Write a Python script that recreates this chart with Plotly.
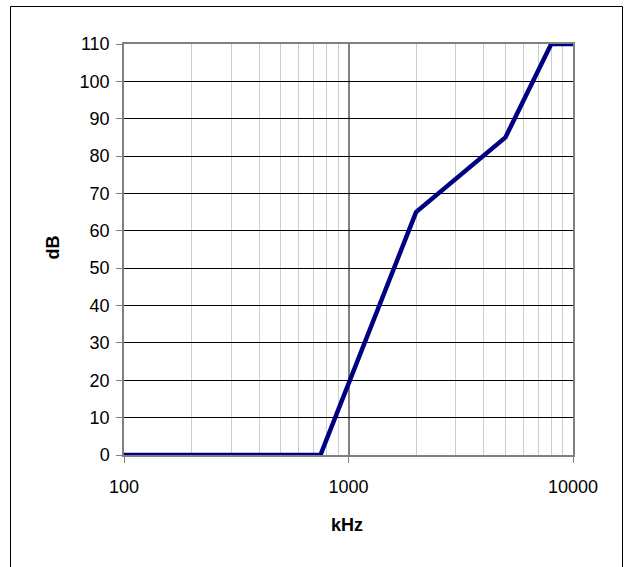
import plotly.graph_objects as go

freq_khz = [100, 750, 2000, 5000, 8000, 10000]
level_db = [0, 0, 65, 85, 110, 110]
x_tick_vals = [100, 1000, 10000]
x_tick_text = ["100", "1000", "10000"]
x_minor_vals = [200, 300, 400, 500, 600, 700, 800, 900,
                2000, 3000, 4000, 5000, 6000, 7000, 8000, 9000]
y_tick_vals = list(range(0, 111, 10))

W, H = 624, 567
L, R, T, B = 124, 51, 44, 112
pw, ph = W - L - R, H - T - B

def px(x):
    return (x - L) / pw

def py(y):
    return (H - B - y) / ph

FONT = "Liberation Sans, Arial, sans-serif"

fig = go.Figure()
fig.add_trace(go.Scatter(
    x=freq_khz, y=level_db, mode="lines",
    line=dict(color="#000080", width=4.5),
    hoverinfo="x+y", showlegend=False,
))

fig.update_layout(
    width=W, height=H,
    margin=dict(l=L, r=R, t=T, b=B),
    paper_bgcolor="white", plot_bgcolor="white",
    font=dict(family=FONT, size=18, color="black"),
    xaxis=dict(
        type="log", range=[2, 4],
        tickvals=x_tick_vals, ticktext=x_tick_text,
        ticks="outside", ticklen=6, tickcolor="#808080", tickwidth=1,
        showgrid=True, gridcolor="#808080", gridwidth=1.5,
        showline=True, linecolor="#808080", linewidth=1.5, mirror=True,
        zeroline=False,
        minor=dict(tickvals=x_minor_vals, showgrid=True,
                   gridcolor="#cccccc", gridwidth=1, ticks=""),
        tickfont=dict(size=18),
        ticklabelstandoff=9,
    ),
    yaxis=dict(
        range=[0, 110],
        tickvals=y_tick_vals,
        ticks="outside", ticklen=6, tickcolor="#808080", tickwidth=1,
        showgrid=True, gridcolor="black", gridwidth=1,
        showline=True, linecolor="#808080", linewidth=1.5, mirror=True,
        zeroline=False,
        tickfont=dict(size=18),
        ticklabelstandoff=3,
    ),
    annotations=[
        dict(text="<b>kHz</b>", xref="paper", yref="paper",
             x=px(347), y=py(525), showarrow=False,
             xanchor="center", yanchor="middle", font=dict(size=18)),
        dict(text="<b>dB</b>", xref="paper", yref="paper",
             x=px(52.5), y=py(248), showarrow=False, textangle=-90,
             xanchor="center", yanchor="middle", font=dict(size=18)),
    ],
    shapes=[
        dict(type="rect", xref="paper", yref="paper",
             x0=px(10.5), x1=px(622.5), y0=py(569), y1=py(6.5),
             line=dict(color="black", width=1), fillcolor="rgba(0,0,0,0)",
             layer="below"),
    ],
)

fig.write_html(
    "out.html",
    config={"displayModeBar": False},
    post_script="document.body.style.margin='0';document.body.style.overflow='hidden';",
)
